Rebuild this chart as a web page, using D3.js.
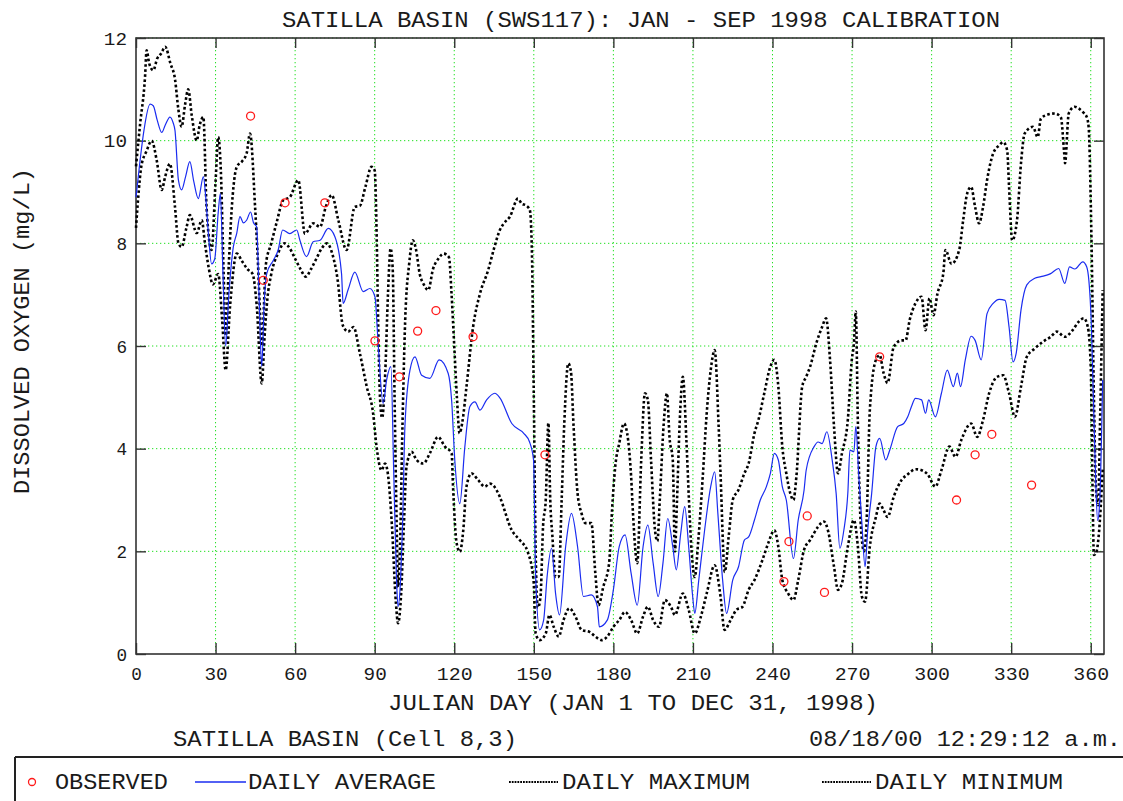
<!DOCTYPE html>
<html>
<head>
<meta charset="utf-8">
<script src="https://cdn.jsdelivr.net/npm/d3@7"></script>
<style>
  html, body { margin: 0; padding: 0; background: #fff; }
  svg { display: block; }
  text { font-family: "Liberation Mono", "DejaVu Sans Mono", monospace; fill: #1a1a1a; }
</style>
</head>
<body>
<svg id="chart" width="1123" height="801"></svg>
<script>
// ---------- DATA ----------
const titleText = "SATILLA BASIN (SWS117): JAN - SEP 1998 CALIBRATION";
const xTitle = "JULIAN DAY (JAN 1 TO DEC 31, 1998)";
const yTitle = "DISSOLVED OXYGEN (mg/L)";
const subTitle = "SATILLA BASIN (Cell 8,3)";
const stampText = "08/18/00 12:29:12 a.m.";
const xTicks = [0, 30, 60, 90, 120, 150, 180, 210, 240, 270, 300, 330, 360];
const yTicks = [0, 2, 4, 6, 8, 10, 12];
const legendLabels = ["OBSERVED", "DAILY AVERAGE", "DAILY MAXIMUM", "DAILY MINIMUM"];

const dailyMax = [[0,9.5],[1.5,10.3],[3.4,11.24],[4,11.76],[5,11.5],[6.5,11.37],[8,11.6],[9.5,11.7],[11,11.83],[13,11.5],[14.7,11.2],[16,10.6],[17.2,10.27],[18.5,10.7],[19.7,11.0],[21,10.5],[22.9,10.0],[24,10.3],[25.4,10.46],[26.6,8.71],[28.5,7.87],[30,9.2],[31,10.07],[32,9.4],[33,7.5],[33.8,6.2],[35,7.6],[36,8.6],[38,9.49],[40,9.6],[41.7,9.75],[43,10.14],[44.9,8.71],[46,7.6],[46.8,6.6],[47.4,6.0],[49,7.6],[51,8.0],[53,8.4],[55.5,8.84],[58,8.9],[61.2,9.23],[63.7,8.19],[66.8,8.39],[69.4,8.32],[71.5,8.7],[73.8,8.94],[76.3,8.45],[79.4,7.87],[82.5,8.71],[84.4,8.73],[86.5,9.1],[88.8,9.49],[90,9.42],[90.8,8.0],[91.3,6.5],[92,5.0],[92.8,4.6],[94,5.5],[95,7.0],[96,7.9],[96.8,7.5],[97.5,5.0],[98.3,2.5],[98.8,1.3],[99.5,2.0],[100.5,4.5],[101.5,6.5],[103,7.6],[104.4,8.06],[105.5,7.9],[107,7.4],[108.5,7.2],[110.2,7.09],[112,7.5],[114,7.7],[116,7.8],[118,7.73],[119,7.0],[120,6.0],[121,5.0],[122,4.3],[123,4.5],[124.6,5.2],[127.1,6.37],[129.7,7.02],[132.8,7.48],[135,7.9],[137.2,8.26],[138.7,8.39],[141,8.52],[144,8.87],[145.5,8.77],[147,8.74],[148.5,8.65],[149.3,7.8],[150,5.0],[150.7,2.0],[151.5,0.9],[152.5,1.1],[153.5,2.5],[154.5,3.0],[155.5,4.5],[156.2,3.0],[157,2.3],[158.2,1.5],[159.4,1.5],[160.5,3.0],[161.5,4.5],[163,5.66],[164,5.5],[165,4.43],[166.5,3.13],[168,2.74],[169.4,2.55],[171.7,2.55],[173.2,1.57],[174.4,0.95],[176.2,1.31],[178.4,1.77],[179.5,2.8],[180.7,3.65],[182.2,4.1],[184,4.49],[185.2,4.3],[186.7,3.45],[187.4,2.74],[189,1.77],[190.5,3.78],[191.9,5.08],[193,4.95],[194.2,3.78],[195.7,2.41],[196.6,2.2],[197.5,3.0],[199,4.5],[200.2,5.08],[201.2,4.2],[202.4,3.78],[203.2,2.0],[204,3.0],[205,4.5],[206.2,5.4],[207.5,4.2],[208.5,3.0],[209.5,2.0],[210.7,1.5],[212,2.2],[213.7,3.45],[215.2,4.69],[216.7,5.53],[218.2,5.92],[219.7,4.43],[220.4,3.52],[222,1.6],[223.5,2.3],[225,3.0],[227.2,3.2],[229.4,3.52],[231,3.71],[233.2,4.3],[234.7,4.56],[236.9,5.08],[239.2,5.6],[240.7,5.73],[242.2,5.21],[243.7,4.04],[245.2,3.52],[246.7,3.13],[247.9,3.0],[249,3.45],[251.2,5.21],[252.7,5.4],[254.2,5.6],[256.5,6.05],[258.7,6.37],[260.2,6.54],[261.7,5.73],[263.2,4.43],[264.7,3.52],[266.2,3.91],[268.4,4.56],[269.9,5.73],[270.7,6.05],[271.4,6.67],[272.2,4.5],[273.2,2.6],[274.5,2.0],[275.5,2.6],[276.7,4.75],[279,5.73],[280.4,5.82],[281.9,5.47],[283.4,5.28],[285.7,5.98],[288.7,6.11],[290.2,6.11],[291.7,6.5],[293.9,6.83],[296.2,6.96],[297.7,6.31],[299.2,6.93],[300.7,6.6],[302.2,7.02],[304.4,7.41],[305.2,7.87],[307.5,7.6],[310.4,7.87],[311.9,8.45],[313.4,8.97],[314.9,9.1],[316.4,8.71],[317.9,8.39],[319.4,8.71],[320.9,9.23],[323.2,9.75],[325.5,9.91],[327,9.97],[328.5,9.81],[329.2,9.1],[330.4,8.06],[332.2,8.45],[333.7,9.56],[335.1,10.14],[338.2,10.27],[340,10.07],[341.2,10.43],[343.4,10.5],[346.4,10.53],[348.7,10.46],[350,9.75],[350.3,9.56],[351.7,10.53],[353.9,10.66],[355.4,10.63],[357,10.56],[358.5,10.46],[359.2,10.27],[360.3,8.0],[361.2,5.0],[362,3.2],[362.8,2.9],[363.5,4.5],[364.5,7.09]];

const dailyAvg = [[0,8.9],[1.5,9.6],[3,10.2],[5.3,10.71],[6.5,10.68],[8,10.4],[9.7,10.16],[11,10.3],[12.8,10.46],[14,10.35],[14.7,10.2],[16,9.23],[17.2,9.04],[18.7,9.3],[20.3,9.59],[21.8,9.2],[23.5,8.87],[25.4,9.3],[26.3,8.9],[27.3,8.19],[28.5,7.6],[29.7,7.7],[31,8.6],[31.8,8.97],[32.8,7.4],[33.8,6.0],[35,7.0],[36.7,7.93],[38,8.2],[39.2,8.52],[40.5,8.4],[41.7,8.45],[43.2,8.61],[44.3,8.4],[45.5,8.32],[46.5,6.8],[47.4,5.6],[48.3,6.8],[49.3,7.41],[51.8,7.67],[53.6,7.87],[55.3,8.26],[58,8.19],[60.6,8.26],[61.8,8.06],[64.3,7.74],[66.8,8.03],[69.4,8.06],[72.5,8.29],[75,8.13],[77.5,7.41],[78.1,6.83],[80,7.1],[82.5,7.44],[85.7,7.06],[88.2,7.12],[90.1,6.96],[91.3,6.05],[93.2,4.88],[94.5,5.34],[96.1,5.6],[97.2,3.5],[98.2,1.5],[98.8,0.92],[99.8,1.5],[100.5,2.5],[101.4,4.43],[103.3,5.53],[105.2,5.79],[107.7,5.43],[110.8,5.37],[114.3,5.73],[117.7,5.47],[119,4.95],[120.2,3.78],[122.1,2.93],[124,4.04],[125.9,4.82],[127.8,4.91],[129.7,4.75],[132.2,4.95],[135.3,5.08],[137.2,4.99],[141.7,4.49],[146.2,4.3],[148.4,4.13],[149.9,3.78],[150.7,1.5],[152.2,0.47],[153.7,0.66],[155,1.5],[156.7,2.06],[158.2,1.18],[159.7,0.76],[162,2.09],[164.2,2.74],[166.5,2.09],[168.7,1.12],[171.7,1.15],[174,0.92],[174.7,0.53],[177.7,0.66],[180,1.25],[182.2,2.09],[184.4,2.32],[186.7,1.57],[189,0.95],[191.2,2.09],[193,2.51],[195,1.77],[196.9,1.12],[198.7,1.77],[200.5,2.64],[202.4,2.09],[203.7,1.64],[205.4,2.35],[206.9,2.87],[208.4,2.09],[209.9,1.12],[210.7,0.79],[212.2,1.44],[214.4,2.41],[216.7,3.26],[218.2,3.55],[219.4,2.74],[221.2,1.44],[222.7,0.79],[225,1.44],[227.2,1.7],[229.4,2.22],[231,2.28],[233.2,2.61],[235.4,3.0],[237.7,3.26],[239.2,3.52],[240.7,3.91],[242.2,3.78],[243.7,3.26],[245.2,3.0],[247.9,1.86],[249.7,2.61],[251.9,3.19],[252.7,3.58],[255.7,4.04],[257.2,4.13],[258.7,4.1],[260.5,4.33],[262.5,3.78],[264,3.13],[265.4,2.06],[266.9,2.41],[268.4,3.13],[269.2,3.97],[270.7,3.94],[271.4,4.43],[272.5,3.5],[273.7,2.55],[274.9,1.7],[275.9,2.41],[277.4,3.13],[279,4.04],[280.4,4.2],[282.7,3.78],[284.2,3.97],[287.2,4.43],[289.5,4.49],[291,4.62],[292.4,4.82],[293.9,4.98],[296.2,4.95],[297.7,4.69],[298.9,4.95],[301.4,4.62],[303.7,5.08],[305.9,5.53],[308.2,5.21],[309.7,5.47],[310.9,5.21],[312.7,5.73],[314.9,6.19],[316.4,6.11],[318.7,5.73],[320.9,6.63],[323.2,6.83],[325.5,6.91],[327.7,6.89],[329.2,6.37],[330.7,5.69],[331.9,5.86],[333.7,6.7],[335.9,7.19],[338.9,7.32],[341.2,7.35],[344.9,7.41],[347.9,7.51],[350.2,7.22],[352,7.54],[354,7.5],[357,7.64],[358.5,7.54],[360,6.7],[361,5.0],[361.8,3.5],[362.6,2.6],[363.4,3.0],[364.5,5.34]];

const dailyMin = [[0,8.3],[1,9.0],[2,9.5],[4,9.8],[5.9,10.0],[7.8,9.62],[9.7,9.04],[11,9.3],[12.8,9.55],[14.7,8.71],[16,8.0],[17.2,7.93],[19,8.3],[20.3,8.55],[22.9,8.2],[24.8,8.45],[26,8.0],[27.5,7.5],[29,7.2],[31,7.4],[32.5,6.5],[33.8,5.53],[35.5,6.8],[38,7.8],[40,7.65],[42,7.5],[44,7.4],[45.5,6.8],[47.4,5.27],[48.5,6.2],[49.5,6.9],[51,7.4],[53.5,7.8],[56,8.0],[58,7.9],[60,7.7],[62,7.5],[64,7.35],[66,7.5],[68,7.7],[70,7.9],[72,8.0],[74,7.8],[76,7.3],[78,6.4],[80,6.28],[82,6.37],[84.4,5.86],[87,5.21],[89.4,4.69],[90.7,4.04],[92.6,3.58],[93.9,3.71],[95,3.5],[96.5,2.5],[98,1.0],[98.8,0.6],[100,1.2],[101,2.5],[102,3.65],[103.9,3.94],[105.8,3.78],[108.3,3.71],[110.8,3.91],[113.9,4.23],[116.5,4.04],[119,3.91],[119.6,3.19],[120.9,2.16],[122.1,1.99],[123.4,2.41],[124.6,3.26],[126.5,3.52],[129,3.39],[131.5,3.26],[133.4,3.32],[136.6,3.13],[137.2,3.06],[141.7,2.41],[144.7,2.22],[147.7,1.99],[149.9,1.44],[150.7,0.4],[152.2,0.27],[154.5,0.4],[155.9,0.76],[157.5,0.53],[159.4,0.34],[161.2,0.66],[163.4,0.89],[165.7,0.73],[168,0.47],[171,0.43],[173.2,0.34],[175.5,0.27],[177.7,0.34],[180,0.53],[182.2,0.66],[184.4,0.82],[186.7,0.66],[189,0.4],[191.2,0.73],[193,0.92],[195,0.66],[197.2,0.53],[199.4,1.05],[201.7,0.92],[203.2,0.76],[206.2,1.18],[208.4,0.86],[210.7,0.4],[213,0.73],[215.2,1.18],[218.2,1.73],[220.4,1.12],[221.9,0.47],[224.2,0.66],[226.4,0.86],[228.7,0.92],[231,1.25],[233.2,1.44],[236.2,1.83],[238.4,2.16],[240.7,2.41],[242.2,2.09],[243.7,1.44],[245.9,1.18],[247.9,1.05],[249.7,1.44],[251.9,2.03],[254.2,2.22],[257.2,2.48],[259.4,2.58],[260.9,2.41],[263.2,1.7],[264.7,1.25],[266.2,1.38],[268.4,2.09],[270.7,2.61],[272.2,2.09],[273.7,1.12],[274.9,1.02],[276.7,2.09],[279,2.67],[280.4,2.93],[281.9,2.8],[283.4,2.67],[285.7,3.06],[288.7,3.39],[291,3.5],[294,3.6],[296.2,3.58],[298.5,3.5],[301.4,3.26],[303.7,3.58],[306.7,4.04],[309,3.84],[311.2,4.17],[314.9,4.49],[317.2,4.23],[319.4,4.56],[321.7,5.08],[324.7,5.4],[327,5.43],[329.2,5.08],[331.4,4.62],[333.7,5.21],[335.9,5.79],[338.9,5.95],[341.9,6.08],[344.9,6.18],[347.2,6.28],[350.2,6.18],[353.2,6.31],[355.4,6.47],[357.4,6.54],[358.9,6.37],[360,5.6],[360.6,3.5],[361.2,1.93],[362.2,2.0],[363,2.3],[364.5,3.6]];

const observed = [[43.2,10.48],[48,7.28],[56.2,8.79],[71.2,8.79],[90.1,6.1],[99.3,5.4],[106.2,6.29],[113.1,6.69],[127.1,6.18],[154.2,3.88],[244.3,1.41],[246.2,2.19],[253.1,2.69],[259.6,1.2],[280.4,5.79],[309.4,3.0],[316.4,3.88],[322.7,4.28],[337.7,3.29]];

// ---------- LAYOUT ----------
const svg = d3.select("#chart");
const X0 = 136, X1 = 1104, Y0 = 654, Y1 = 38;
const x = d3.scaleLinear().domain([0, 365]).range([X0, X1]);
const y = d3.scaleLinear().domain([0, 12]).range([Y0, Y1]);
const CW = 14.1; // char advance of reference font

// grid
const grid = svg.append("g");
grid.selectAll("line.gx").data(xTicks.filter(d => d > 0)).join("line")
  .attr("x1", d => x(d)).attr("x2", d => x(d)).attr("y1", Y1).attr("y2", Y0)
  .attr("stroke", "#22e022").attr("stroke-width", 1).attr("stroke-dasharray", "1.3,2.7");
grid.selectAll("line.gy").data(yTicks.filter(d => d > 0)).join("line")
  .attr("x1", X0).attr("x2", X1).attr("y1", d => y(d)).attr("y2", d => y(d))
  .attr("stroke", "#22e022").attr("stroke-width", 1).attr("stroke-dasharray", "1.3,2.7");

// frame
svg.append("rect").attr("x", X0).attr("y", Y1).attr("width", X1 - X0).attr("height", Y0 - Y1)
  .attr("fill", "none").attr("stroke", "#333").attr("stroke-width", 1.6);

// axes
const axB = svg.append("g").attr("transform", `translate(0,${Y0})`)
  .call(d3.axisBottom(x).tickValues(xTicks).tickSize(-11).tickSizeOuter(0).tickPadding(13));
const axT = svg.append("g").attr("transform", `translate(0,${Y1})`)
  .call(d3.axisTop(x).tickValues(xTicks).tickSize(-10).tickSizeOuter(0).tickFormat(""));
const axL = svg.append("g").attr("transform", `translate(${X0},0)`)
  .call(d3.axisLeft(y).tickValues(yTicks).tickSize(-10).tickSizeOuter(0).tickPadding(9));
const axR = svg.append("g").attr("transform", `translate(${X1},0)`)
  .call(d3.axisRight(y).tickValues(yTicks).tickSize(-10).tickSizeOuter(0).tickFormat(""));
[axB, axT, axL, axR].forEach(a => {
  a.select(".domain").remove();
  a.selectAll(".tick line").attr("stroke", "#333").attr("stroke-width", 1.4);
  a.selectAll("text").attr("fill", "#1a1a1a").style("font-size", "19px")
    .style("font-family", '"Liberation Mono", monospace')
    .attr("textLength", d => String(d).length * 12.6 - 2).attr("lengthAdjust", "spacingAndGlyphs");
});

// series
const line = d3.line().x(d => x(d[0])).y(d => y(d[1])).curve(d3.curveMonotoneX);
const plot = svg.append("g");
plot.append("path").datum(dailyMax).attr("d", line).attr("fill", "none")
  .attr("stroke", "#000").attr("stroke-width", 2.6).attr("stroke-dasharray", "2.6,2.4");
plot.append("path").datum(dailyMin).attr("d", line).attr("fill", "none")
  .attr("stroke", "#000").attr("stroke-width", 2.6).attr("stroke-dasharray", "2.6,2.4");
plot.append("path").datum(dailyAvg).attr("d", line).attr("fill", "none")
  .attr("stroke", "#1a2cf0").attr("stroke-width", 1.2);
plot.selectAll("circle.obs").data(observed).join("circle")
  .attr("cx", d => x(d[0])).attr("cy", d => y(d[1])).attr("r", 4)
  .attr("fill", "none").attr("stroke", "#ff1a1a").attr("stroke-width", 1.3);

// texts
function label(txt, px, py, opts = {}) {
  const t = svg.append("text").attr("x", px).attr("y", py).text(txt)
    .style("font-size", (opts.size || 22) + "px")
    .attr("textLength", opts.len || txt.length * CW).attr("lengthAdjust", "spacingAndGlyphs");
  if (opts.anchor) t.attr("text-anchor", opts.anchor);
  if (opts.rotate) t.attr("transform", `rotate(${opts.rotate},${px},${py})`);
  return t;
}
label(titleText, 641, 27, { anchor: "middle", len: 718 });
label(xTitle, 633, 710, { anchor: "middle", len: 490 });
label(yTitle, 29, 331, { anchor: "middle", len: 326, rotate: -90 });
label(subTitle, 173, 746, { len: 344 });
label(stampText, 809, 746, { len: 312 });

// legend box
svg.append("line").attr("x1", 15).attr("x2", 1123).attr("y1", 757).attr("y2", 757)
  .attr("stroke", "#222").attr("stroke-width", 2);
svg.append("line").attr("x1", 15).attr("x2", 15).attr("y1", 757).attr("y2", 801)
  .attr("stroke", "#222").attr("stroke-width", 2);

const LY = 782;
svg.append("circle").attr("cx", 32).attr("cy", LY).attr("r", 3.5)
  .attr("fill", "none").attr("stroke", "#ff1a1a").attr("stroke-width", 1.3);
label(legendLabels[0], 55, 789, { len: 113 });
svg.append("line").attr("x1", 195).attr("x2", 246).attr("y1", LY).attr("y2", LY)
  .attr("stroke", "#1a2cf0").attr("stroke-width", 1.3);
label(legendLabels[1], 248, 789, { len: 188 });
svg.append("line").attr("x1", 509).attr("x2", 558).attr("y1", LY).attr("y2", LY)
  .attr("stroke", "#000").attr("stroke-width", 2.2).attr("stroke-dasharray", "1.8,1");
label(legendLabels[2], 562, 789, { len: 188 });
svg.append("line").attr("x1", 822).attr("x2", 871).attr("y1", LY).attr("y2", LY)
  .attr("stroke", "#000").attr("stroke-width", 2.2).attr("stroke-dasharray", "1.8,1");
label(legendLabels[3], 875, 789, { len: 188 });
</script>
</body>
</html>
